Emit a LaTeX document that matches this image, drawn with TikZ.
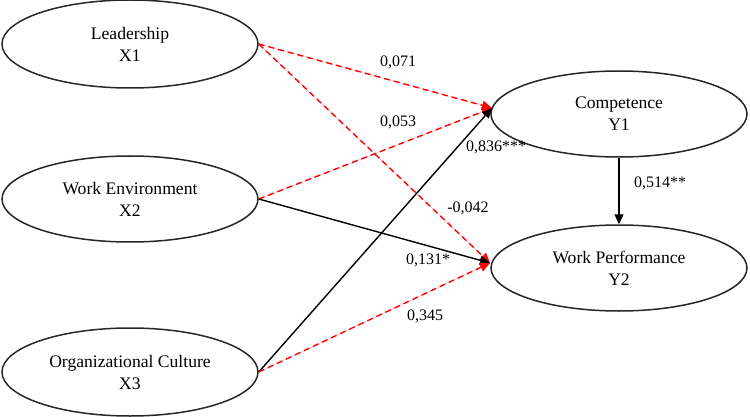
\documentclass[tikz,border=0pt]{standalone}
\usepackage{fontspec}
\setmainfont{Liberation Serif}
\usetikzlibrary{shapes.geometric,arrows.meta}
\begin{document}
\begin{tikzpicture}[x=0.5pt,y=-0.5pt,
  latent/.style={draw=black!85, line width=0.75pt, ellipse, inner sep=0pt,
    minimum width=128pt, minimum height=43pt, align=center,
    font=\fontsize{8.8}{11}\selectfont},
  sig/.style={draw=black, line width=0.7pt, -{Triangle[length=5pt,width=4.5pt]}},
  nsig/.style={draw=red, line width=0.7pt, dash pattern=on 3pt off 2pt,
    -{Triangle[length=5pt,width=4.5pt]}, fill=red},
  coef/.style={font=\fontsize{8}{10}\selectfont, inner sep=1pt}]
\useasboundingbox (0,0) rectangle (750,417);
\node[latent, minimum height=44pt] (X1) at (130,44) {Leadership\\X1};
\node[latent] (X2) at (130,199) {Work Environment\\X2};
\node[latent, minimum height=44pt] (X3) at (130,372) {Organizational Culture\\X3};
\node[latent] (Y1) at (619,114) {Competence\\Y1};
\node[latent] (Y2) at (619,268) {Work Performance\\Y2};
\coordinate (y1in) at (492,108);
\coordinate (y2in) at (490,263);
\draw[nsig] (X1.east) -- (y1in);
\draw[nsig] (X2.east) -- (y1in);
\draw[nsig] (X1.east) -- (y2in);
\draw[sig] (X2.east) -- (y2in);
\draw[sig] (X3.east) -- (y1in);
\draw[nsig] (X3.east) -- (y2in);
\draw[sig] (Y1.south) -- (Y2.north);
\node[coef] (c1) at (398,62) {0,071};
\node[coef] (c2) at (398,122) {0,053};
\node[coef] (c3) at (468,208) {-0,042};
\node[coef] (c4) at (428,260) {0,131*};
\node[coef] (c5) at (496,147) {0,836***};
\node[coef] (c6) at (425,316) {0,345};
\node[coef] (c7) at (660,183) {0,514**};
\end{tikzpicture}
\end{document}
